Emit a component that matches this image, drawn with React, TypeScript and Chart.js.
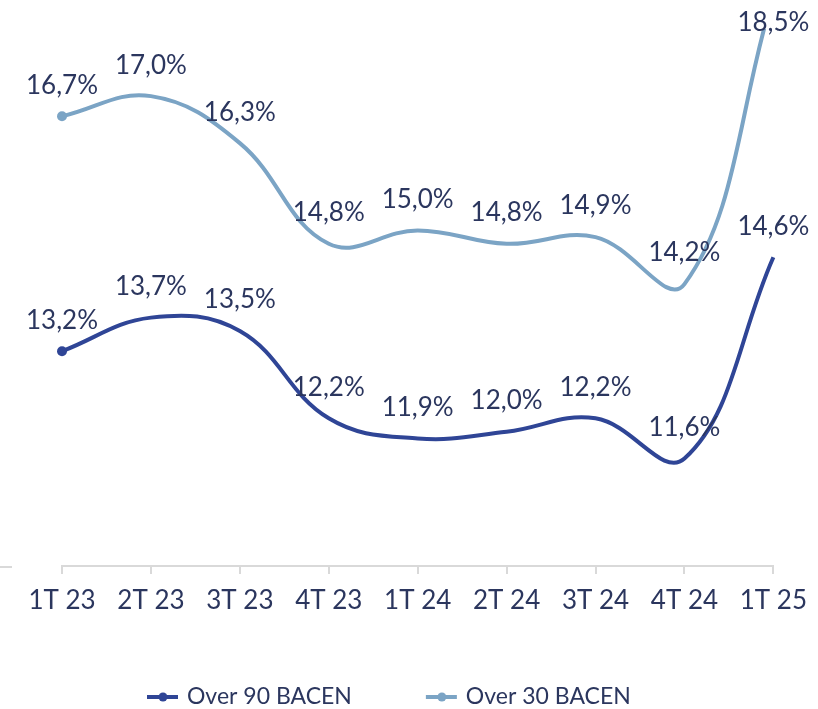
import React, { useEffect, useRef } from "react";
import { Chart, registerables } from "chart.js";

Chart.register(...registerables);

const categories = ["1T 23", "2T 23", "3T 23", "4T 23", "1T 24", "2T 24", "3T 24", "4T 24", "1T 25"];
const over90 = [13.2, 13.7, 13.5, 12.2, 11.9, 12.0, 12.2, 11.6, 14.6];
const over30 = [16.7, 17.0, 16.3, 14.8, 15.0, 14.8, 14.9, 14.2, 18.5];
const seriesNames = ["Over 90 BACEN", "Over 30 BACEN"];
const yMin = 10;
const yMax = 18;

const FONT = "Lato";
const TEXT = "#2b365e";
const DARK = "#2f4596";
const LIGHT = "#7ba4c5";
const AXIS = "#d9d9d9";

const fmt = (v: number) => v.toFixed(1).replace(".", ",") + "%";
const firstOnly = (r: number) => categories.map((_, i) => (i === 0 ? r : 0));

const labelPlugin = {
  id: "valueLabels",
  afterDatasetsDraw(chart: any) {
    const ctx = chart.ctx;
    ctx.save();
    ctx.font = `26px ${FONT}`;
    ctx.fillStyle = TEXT;
    ctx.textAlign = "center";
    ctx.textBaseline = "middle";
    chart.data.datasets.forEach((ds: any, i: number) => {
      const meta = chart.getDatasetMeta(i);
      meta.data.forEach((pt: any, j: number) => {
        const y = Math.max(pt.y - 31, 23);
        ctx.fillText(fmt(ds.data[j]), pt.x, y);
      });
    });
    // small axis stub at left edge
    ctx.strokeStyle = AXIS;
    ctx.lineWidth = 2;
    ctx.beginPath();
    ctx.moveTo(0, chart.chartArea.bottom + 1);
    ctx.lineTo(12, chart.chartArea.bottom + 1);
    ctx.stroke();
    ctx.restore();
  },
};

const legendPlugin = {
  id: "customLegend",
  afterDraw(chart: any) {
    const ctx = chart.ctx;
    ctx.save();
    const y = chart.height - 12;
    let x = 147;
    ctx.font = `23px ${FONT}`;
    ctx.textBaseline = "middle";
    ctx.textAlign = "left";
    chart.data.datasets.forEach((ds: any) => {
      ctx.strokeStyle = ds.borderColor;
      ctx.fillStyle = ds.borderColor;
      ctx.lineWidth = 4;
      ctx.beginPath();
      ctx.moveTo(x, y);
      ctx.lineTo(x + 31, y);
      ctx.stroke();
      ctx.beginPath();
      ctx.arc(x + 16, y, 4.5, 0, Math.PI * 2);
      ctx.fill();
      ctx.fillStyle = TEXT;
      ctx.fillText(ds.label, x + 40, y);
      x += 40 + ctx.measureText(ds.label).width + 74;
    });
    ctx.restore();
  },
};

export default function App() {
  const ref = useRef<HTMLCanvasElement | null>(null);
  useEffect(() => {
    if (!ref.current) return;
    const chart = new Chart(ref.current, {
      type: "line",
      data: {
        labels: categories,
        datasets: [
          {
            label: seriesNames[0],
            data: over90,
            borderColor: DARK,
            backgroundColor: DARK,
            borderWidth: 4,
            tension: 0.4,
            pointRadius: firstOnly(5),
            pointHoverRadius: 0,
            pointBorderWidth: 0,
            pointBackgroundColor: DARK,
          },
          {
            label: seriesNames[1],
            data: over30,
            borderColor: LIGHT,
            backgroundColor: LIGHT,
            borderWidth: 4,
            tension: 0.4,
            pointRadius: firstOnly(5),
            pointHoverRadius: 0,
            pointBorderWidth: 0,
            pointBackgroundColor: LIGHT,
          },
        ],
      },
      options: {
        responsive: false,
        animation: false,
        events: [],
        layout: { padding: { left: 62, right: 41, top: 29, bottom: 83 } },
        plugins: { legend: { display: false }, tooltip: { enabled: false } },
        scales: {
          x: {
            type: "category",
            offset: false,
            grid: { display: true, drawOnChartArea: false, drawTicks: true, tickLength: 8, color: AXIS, lineWidth: 2 },
            border: { display: true, color: AXIS, width: 2 },
            ticks: { color: TEXT, font: { family: FONT, size: 26 }, padding: 11, maxRotation: 0, autoSkip: false },
            afterFit: (s: any) => {
              s.height = 60;
            },
          },
          y: { display: false, min: yMin, max: yMax },
        },
      },
      plugins: [labelPlugin, legendPlugin],
    });
    return () => chart.destroy();
  }, []);
  return (
    <div style={{ position: "absolute", left: 0, top: 0, width: 818, height: 709 }}>
      <canvas ref={ref} width={818} height={709} style={{ display: "block" }} />
    </div>
  );
}
